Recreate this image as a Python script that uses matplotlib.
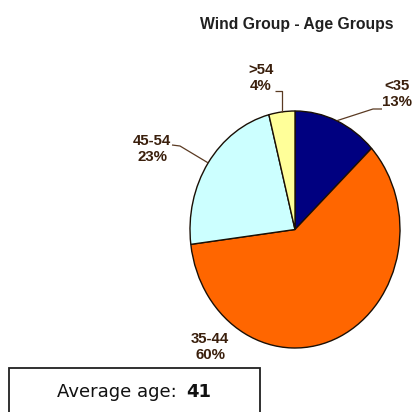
import numpy as np
import matplotlib
matplotlib.use("Agg")
import matplotlib.pyplot as plt
from matplotlib.patches import Rectangle

# ---- data ----
categories = ["<35", "35-44", "45-54", ">54"]
shares = [13, 60, 23, 4]
colors = ["#000080", "#FF6600", "#CCFFFF", "#FFFF99"]
title = "Wind Group - Age Groups"
avg_label = "Average age:"
avg_value = "41"

W, H = 413, 412
fig = plt.figure(figsize=(W / 100, H / 100), dpi=100)
fig.patch.set_facecolor("white")

# pie axes (ellipse box in pixel terms)
pl, pr, pt, pb = 190, 400, 111, 348
ax = fig.add_axes([pl / W, (H - pb) / H, (pr - pl) / W, (pb - pt) / H])
wedges, _ = ax.pie(shares, colors=colors, startangle=90, counterclock=False,
                   wedgeprops=dict(edgecolor="#1a0f05", linewidth=1.0))
ax.set_aspect("auto")
ax.set_xlim(-1, 1)
ax.set_ylim(-1, 1)
ax.axis("off")

# overlay axes in pixel coordinates
ov = fig.add_axes([0, 0, 1, 1], zorder=5)
ov.set_xlim(0, W)
ov.set_ylim(H, 0)
ov.axis("off")

def edge_point(w):
    mid = np.deg2rad((w.theta1 + w.theta2) / 2)
    disp = ax.transData.transform((np.cos(mid), np.sin(mid)))
    return ov.transData.inverted().transform(disp)

lab_color = "#3a1f0c"
lab_font = dict(family="Liberation Sans", fontweight="bold", fontsize=10.8,
                color=lab_color, ha="center", va="center", linespacing=1.27)

# label positions (pixel layout) and leader elbows
label_pos = {"<35": (397, 94), "35-44": (210, 347), "45-54": (152, 149), ">54": (261, 78)}
leaders = {
    "<35": [(382, 109), (373, 109)],
    "45-54": [(172, 145), (180, 146)],
    ">54": [(275, 91), (282, 91)],
}

for w, cat, val in zip(wedges, categories, shares):
    x, y = label_pos[cat]
    ov.text(x, y, f"{cat}\n{val}%", **lab_font)
    if cat in leaders:
        ex, ey = edge_point(w)
        pts = leaders[cat] + [(ex, ey)]
        if cat == ">54":
            pts = [(275, 91), (ex, 91), (ex, ey)]
        xs, ys = zip(*pts)
        ov.plot(xs, ys, color="#5a3a22", lw=0.9, solid_capstyle="butt")

# title
ov.text(393, 24, title, family="Liberation Sans", fontweight="bold",
        fontsize=11.3, color="#202020", ha="right", va="center")

# average box
ov.add_patch(Rectangle((9, 368), 251, 60, facecolor="white", edgecolor="#202020",
                       lw=1.3, clip_on=False))
ov.text(177, 392, avg_label, family="DejaVu Sans", fontsize=13, color="#111111",
        ha="right", va="center")
ov.text(186, 392, avg_value, family="DejaVu Sans", fontsize=13, fontweight="bold",
        color="#111111", ha="left", va="center")

fig.savefig("out.png", dpi=100, facecolor="white")
